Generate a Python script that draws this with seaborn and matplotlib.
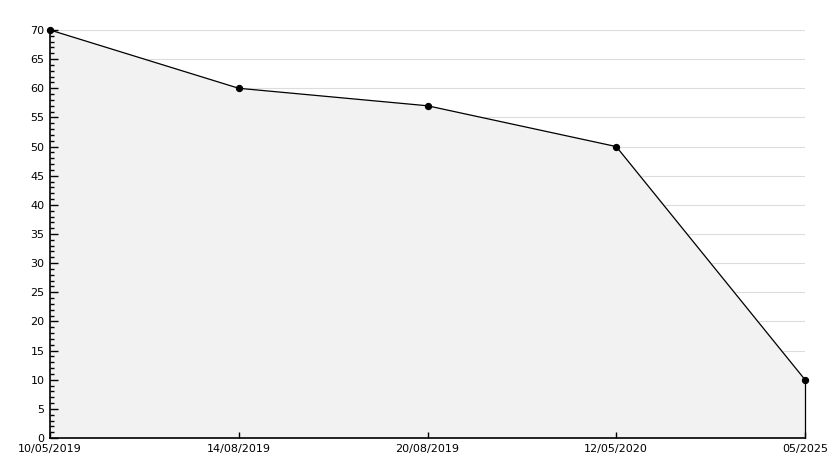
import matplotlib
matplotlib.use("Agg")
import matplotlib.pyplot as plt
import seaborn as sns
import pandas as pd
import numpy as np
from matplotlib.ticker import MultipleLocator

dates = ["10/05/2019", "14/08/2019", "20/08/2019", "12/05/2020", "05/2025"]
values = [70, 60, 57, 50, 10]

df = pd.DataFrame({"pos": np.arange(len(dates)), "value": values})

sns.set_style("white")
plt.rcParams['font.family'] = ['DejaVu Sans']

fig = plt.figure(figsize=(8.34, 4.68), dpi=100)
ax = fig.add_axes([50 / 834, 30 / 468, 755 / 834, 408 / 468])
ax.set_axisbelow(False)  # ticks on top of the fill

ax.fill_between(df["pos"], df["value"], 0, color="#f2f2f2", zorder=1)
ax.plot([df["pos"].iloc[-1]] * 2, [0, df["value"].iloc[-1]], color="black", lw=0.9,
        zorder=2, clip_on=False)
sns.lineplot(data=df, x="pos", y="value", ax=ax, color="black", lw=0.9,
             marker="o", markersize=4.5, markeredgecolor="black", zorder=3, clip_on=False)

ax.set_xlim(0, len(dates) - 1)
ax.set_ylim(0, 70)
ax.set_xticks(df["pos"])
ax.set_xticklabels(dates)
ax.yaxis.set_major_locator(MultipleLocator(5))
ax.yaxis.set_minor_locator(MultipleLocator(1))

# grid under the filled area
yt = [t for t in ax.get_yticks() if 0 < t <= 70]
ax.hlines(yt, 0, len(dates) - 1, color="#dddddd", lw=0.8, zorder=0)

for s in ["top", "right"]:
    ax.spines[s].set_visible(False)
for s in ["left", "bottom"]:
    ax.spines[s].set_color("black")
    ax.spines[s].set_linewidth(1.2)
    ax.spines[s].set_zorder(4)

ax.tick_params(axis="y", which="major", left=True, direction="in", length=6, width=1,
               labelsize=8, pad=4, colors="black")
ax.tick_params(axis="y", which="minor", left=True, direction="in", length=3, width=1, colors="black")
ax.tick_params(axis="x", which="major", bottom=True, direction="in", length=4, width=1,
               labelsize=8, pad=4, colors="black")
ax.set_xlabel("")
ax.set_ylabel("")

fig.savefig("out.png", dpi=100)
